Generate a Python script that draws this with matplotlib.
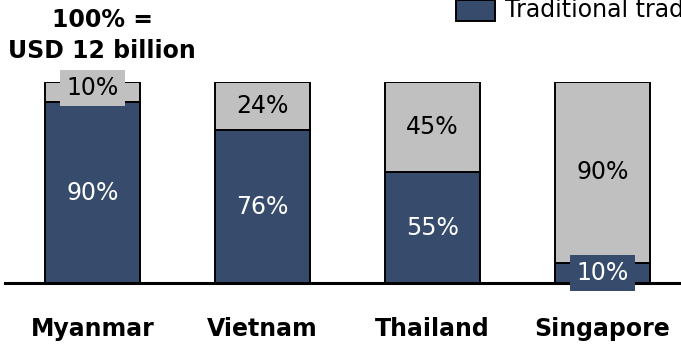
import matplotlib
matplotlib.use("Agg")
import matplotlib.pyplot as plt
from matplotlib.patches import Rectangle

countries = ["Myanmar", "Vietnam", "Thailand", "Singapore"]
traditional = [90, 76, 55, 10]
modern = [10, 24, 45, 90]
total_label = ["100% =", "USD 12 billion"]
legend_label = "Traditional trade"

DARK = "#374C6C"
GREY = "#C0C0C0"

plt.rcParams["font.family"] = "DejaVu Sans"

fig = plt.figure(figsize=(6.81, 3.46), dpi=100)
W, H = 681, 346
# axes: y=0 sits at px 283, y=100 at px 82
ax = fig.add_axes([5 / W, (H - 283) / H, 676 / W, 201 / H])

x = list(range(len(countries)))
bw = 95 / 170

ax.bar(x, traditional, width=bw, color=DARK, edgecolor="black", linewidth=1.4, zorder=2)
ax.bar(x, modern, width=bw, bottom=traditional, color=GREY, edgecolor="black",
       linewidth=1.4, zorder=2)

# segment labels; small segments get a filled box so the text stays readable
for i in x:
    t = traditional[i]
    m = modern[i]
    kw_t = dict(ha="center", va="center", fontsize=17, color="white", zorder=5)
    if t < 15:
        kw_t["bbox"] = dict(boxstyle="square,pad=0.25", fc=DARK, ec="none")
    ax.text(i, t / 2, f"{t}%", **kw_t)
    kw_m = dict(ha="center", va="center", fontsize=17, color="black", zorder=5)
    if m < 15:
        kw_m["bbox"] = dict(boxstyle="square,pad=0.25", fc=GREY, ec="none")
        ax.text(i, t + m / 2 + 2, f"{m}%", **kw_m)
    else:
        ax.text(i, t + m / 2, f"{m}%", **kw_m)
    ax.text(i, -23, countries[i], ha="center", va="center", fontsize=17,
            fontweight="bold", clip_on=False)

ax.set_xlim((5 - 92.5) / 170, (681 - 92.5) / 170)
ax.set_ylim(0, 100)
for s in ["top", "left", "right"]:
    ax.spines[s].set_visible(False)
ax.spines["bottom"].set_linewidth(2.2)
ax.spines["bottom"].set_zorder(4)
ax.set_xticks([])
ax.set_yticks([])
ax.patch.set_visible(False)

fig.text(102 / W, 1 - 20 / H, total_label[0], ha="center", va="center",
         fontsize=17, fontweight="bold")
fig.text(102 / W, 1 - 51 / H, total_label[1], ha="center", va="center",
         fontsize=17, fontweight="bold")

# legend key, runs off the right edge
fig.patches.append(Rectangle((456 / W, 1 - 21 / H), 39 / W, 21 / H,
                             transform=fig.transFigure, fc=DARK, ec="black",
                             lw=1.4, figure=fig))
fig.text(505 / W, 1 - 10 / H, legend_label, ha="left", va="center", fontsize=17)

fig.savefig("out.png", dpi=100)
